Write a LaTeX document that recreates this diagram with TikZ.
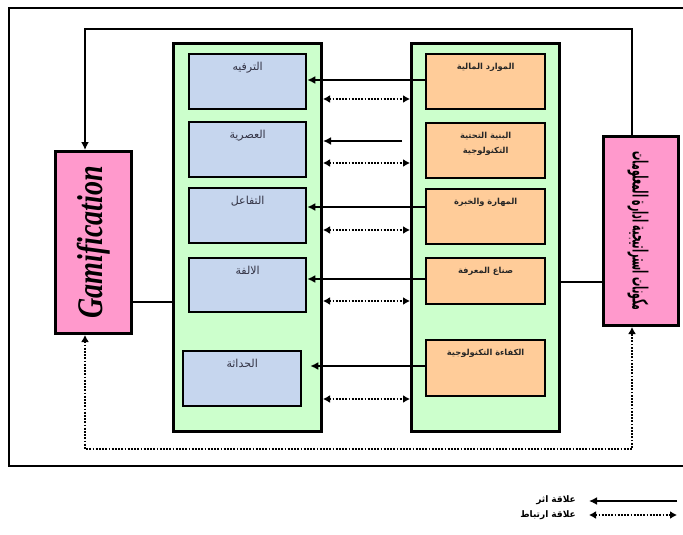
\documentclass[tikz,border=0pt]{standalone}
\usepackage{fontspec}
\usepackage{graphicx}
\setmainfont{Liberation Serif}
\newfontfamily\arabicfont[Script=Arabic]{DejaVu Sans}
\TeXXeTstate=1
\usetikzlibrary{arrows.meta}
\definecolor{greenfill}{HTML}{CCFFCC}
\definecolor{bluefill}{HTML}{C6D6EE}
\definecolor{orangefill}{HTML}{FFCC99}
\definecolor{pinkfill}{HTML}{FF99CC}
\definecolor{bluetext}{HTML}{333344}
\begin{document}
\begin{tikzpicture}[x=1pt,y=-1pt,
  frame/.style={line width=2.5pt},
  container/.style={draw, fill=greenfill, line width=3pt, anchor=north west, minimum width=148pt, minimum height=388pt},
  bluebox/.style={draw, fill=bluefill, line width=2.3pt, anchor=north west, minimum width=117pt},
  orangebox/.style={draw, fill=orangefill, line width=2.3pt, anchor=north west, minimum width=119pt},
  pinkbox/.style={draw, fill=pinkfill, line width=3pt, anchor=north west},
  btxt/.style={anchor=north, yshift=-6pt, font=\arabicfont\fontsize{11}{12}\selectfont, text=bluetext, align=center},
  otxt/.style={anchor=north, yshift=-7pt, font=\arabicfont\bfseries\fontsize{8.3}{15}\selectfont, text=black!85, align=center},
  effect/.style={line width=1.8pt, -{Latex[length=8pt,width=8pt]}},
  assoc/.style={line width=2.6pt, dash pattern=on 1.8pt off 1.4pt, {Latex[length=7pt,width=8pt]}-{Latex[length=7pt,width=8pt]}},
  plain/.style={line width=1.8pt}
]
\useasboundingbox (0,0) rectangle (683,535);
\fill[white] (0,0) rectangle (683,535);
\draw[frame] (690,8) -- (9,8) -- (9,466) -- (690,466);

% containers
\node[container] (lc) at (172,42) {};
\node[container] (rc) at (410,42) {};

% blue boxes
\node[bluebox, minimum height=55pt, label={[btxt]north:\beginR الترفيه\endR}] (b1) at (188,53) {};
\node[bluebox, minimum height=55pt, label={[btxt]north:\beginR العصرية\endR}] (b2) at (188,121) {};
\node[bluebox, minimum height=55pt, label={[btxt]north:\beginR التفاعل\endR}] (b3) at (188,187) {};
\node[bluebox, minimum height=54pt, label={[btxt]north:\beginR الالفة\endR}] (b4) at (188,257) {};
\node[bluebox, minimum width=118pt, minimum height=55pt, label={[btxt]north:\beginR الحداثة\endR}] (b5) at (182,350) {};

% orange boxes
\node[orangebox, minimum height=55pt, label={[otxt]north:\beginR الموارد المالية\endR}] (o1) at (425,53) {};
\node[orangebox, minimum height=55pt, label={[otxt]north:\beginR البنية التحتية\endR\\\beginR التكنولوجية\endR}] (o2) at (425,122) {};
\node[orangebox, minimum height=55pt, label={[otxt]north:\beginR المهارة والخبرة\endR}] (o3) at (425,188) {};
\node[orangebox, minimum height=46pt, label={[otxt]north:\beginR صناع المعرفة\endR}] (o4) at (425,257) {};
\node[orangebox, minimum height=56pt, label={[otxt]north:\beginR الكفاءة التكنولوجية\endR}] (o5) at (425,339) {};

% side boxes
\node[pinkbox, minimum width=76pt, minimum height=182pt] (gam) at (54,150) {};
\node[rotate=90, font=\bfseries\itshape\fontsize{36}{36}\selectfont] (gamt) at (gam.center) {\scalebox{0.78}[1]{Gamification}};
\node[pinkbox, minimum width=75pt, minimum height=189pt] (mis) at (602,135) {};
\node[rotate=-90, font=\arabicfont\bfseries\fontsize{21}{21}\selectfont] (mist) at ([xshift=-3pt]mis.center) {\scalebox{0.44}[1]{\beginR مكونات استراتيجية ادارة المعلومات\endR}};

% effect arrows (solid)
\draw[effect] (o1.west |- 0,80) -- (b1.east |- 0,80);
\draw[effect] ([xshift=-8pt]rc.west |- 0,141) -- (lc.east |- 0,141);
\draw[effect] (o3.west |- 0,207) -- (b3.east |- 0,207);
\draw[effect] (o4.west |- 0,279) -- (b4.east |- 0,279);
\draw[effect] (o5.west |- 0,366) -- ([xshift=8pt]b5.east |- 0,366);

% association arrows (dotted)
\foreach \yy in {99,163,230,301,399}{
  \draw[assoc] (lc.east |- 0,\yy) -- (rc.west |- 0,\yy);
}

% links to side boxes
\draw[plain] (gam.east |- 0,302) -- (lc.west |- 0,302);
\draw[plain] (rc.east |- 0,282) -- (mis.west |- 0,282);

% top loop
\coordinate (tr) at (632,29);
\coordinate (tl) at (85,29);
\draw[effect] (mis.north -| tr) -- (tr) -- (tl) -- (gam.north -| tl);

% bottom dotted loop
\coordinate (br) at (632,449);
\coordinate (bl) at (85,449);
\draw[assoc] (gam.south -| bl) -- (bl) -- (br) -- (mis.south -| br);

% legend
\coordinate (la1) at (677,501);
\coordinate (lb1) at (589,501);
\coordinate (la2) at (677,515);
\coordinate (lb2) at (589,515);
\draw[effect] (la1) -- (lb1);
\draw[assoc] (lb2) -- (la2);
\node[anchor=east, font=\arabicfont\bfseries\fontsize{9}{9}\selectfont, inner sep=1pt] (leg1) at (577,500) {\beginR علاقة اثر\endR};
\node[anchor=east, font=\arabicfont\bfseries\fontsize{9}{9}\selectfont, inner sep=1pt] (leg2) at (577,515) {\beginR علاقة ارتباط\endR};
\end{tikzpicture}
\end{document}
